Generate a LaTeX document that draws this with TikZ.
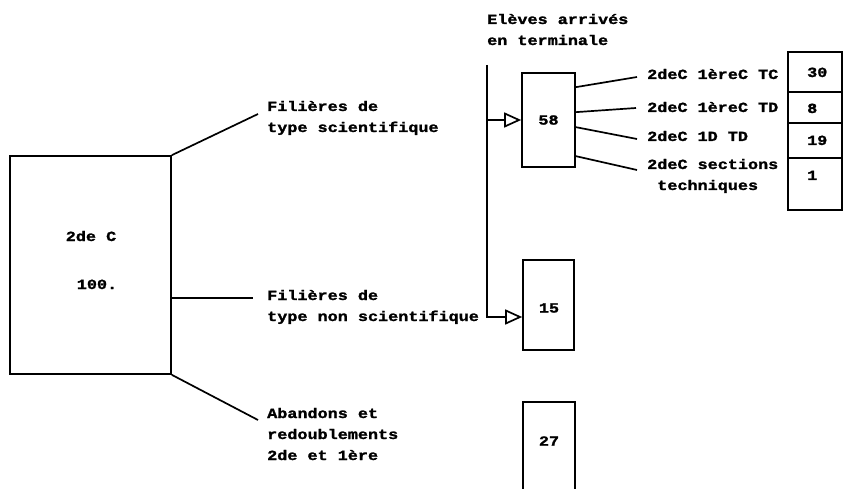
\documentclass[tikz,border=0pt]{standalone}
\usepackage{fontspec}
\newfontfamily\tw{Liberation Mono}[FakeStretch=1.2, BoldFeatures={FakeBold=1.5}]
\usetikzlibrary{arrows.meta,calc}
\begin{document}
\begin{tikzpicture}[x=1pt,y=-1pt,
  every node/.style={font=\tw\bfseries\fontsize{14pt}{21pt}\selectfont, inner sep=0pt},
  box/.style={draw, line width=1.7pt, rectangle},
  conn/.style={line width=1.7pt},
  arr/.style={line width=1.7pt, -{Triangle[open,length=17pt,width=15pt,line width=1.7pt]}},
  lbl/.style={anchor=base west},
  num/.style={anchor=base west},
]
\useasboundingbox (0,0) rectangle (843,489);

% main box
\node[box, minimum width=161pt, minimum height=218pt] (big) at (90.5,265) {};
\node[anchor=base] (t2de) at (91,241) {2de C};
\node[anchor=base] (t100) at (97,289) {100.};

% branch labels
\node[lbl] (l1) at (267,111) {\begin{tabular}[t]{@{}l@{}}Filières de\\type scientifique\end{tabular}};
\node[lbl] (l2) at (267,300) {\begin{tabular}[t]{@{}l@{}}Filières de\\type non scientifique\end{tabular}};
\node[lbl] (l3) at (267,418) {\begin{tabular}[t]{@{}l@{}}Abandons et\\redoublements\\2de et 1ère\end{tabular}};

\coordinate (c1) at (258,114);
\coordinate (c2) at (253,298);
\coordinate (c3) at (258,420);
\draw[conn] (big.north east) -- (c1);
\draw[conn] (big.east |- c2) -- (c2);
\draw[conn] (big.south east) -- (c3);

% title
\node[lbl] (title) at (487,24) {\begin{tabular}[t]{@{}l@{}}Elèves arrivés\\en terminale\end{tabular}};

% result boxes
\node[box, minimum width=53pt, minimum height=94pt] (b58) at (548.5,120) {58};
\node[box, minimum width=51pt, minimum height=90pt] (b15) at (548.5,305) {};
\node (t15) at (549,308) {15};
\node[box, minimum width=52pt, minimum height=100pt] (b27) at (549,452) {};
\node (t27) at (549,441) {27};

% bracket with arrows
\coordinate (vtop) at (487,65);
\coordinate (vbot) at (487,317);
\draw[arr] (vtop) -- (vbot) -- (b15.west |- vbot);
\draw[arr] (vtop |- b58.west) -- (b58.west);

% detail lines
\coordinate (s1) at ($(b58.north east)+(0,15)$);
\coordinate (s2) at ($(b58.north east)+(0,40)$);
\coordinate (s3) at ($(b58.north east)+(0,55)$);
\coordinate (s4) at ($(b58.north east)+(0,84)$);
\coordinate (e1) at (637,77);
\coordinate (e2) at (636,108);
\coordinate (e3) at (637,139);
\coordinate (e4) at (637,170);
\draw[conn] (s1) -- (e1);
\draw[conn] (s2) -- (e2);
\draw[conn] (s3) -- (e3);
\draw[conn] (s4) -- (e4);

\node[lbl] (r1) at (647,79) {2deC 1èreC TC};
\node[lbl] (r2) at (647,112) {2deC 1èreC TD};
\node[lbl] (r3) at (647,141) {2deC 1D TD};
\node[lbl] (r4) at (647,169) {\begin{tabular}[t]{@{}l@{}}2deC sections\\\ techniques\end{tabular}};

% table
\node[box, minimum width=54pt, minimum height=40pt] (n30) at (815,72) {};
\node[box, minimum width=54pt, minimum height=31pt] (n8) at (815,107.5) {};
\node[box, minimum width=54pt, minimum height=35pt] (n19) at (815,140.5) {};
\node[box, minimum width=54pt, minimum height=52pt] (n1) at (815,184) {};
\node[num] (v30) at (807,77) {30};
\node[num] (v8) at (807,113) {8};
\node[num] (v19) at (807,145) {19};
\node[num] (v1) at (807,180) {1};
\end{tikzpicture}
\end{document}
